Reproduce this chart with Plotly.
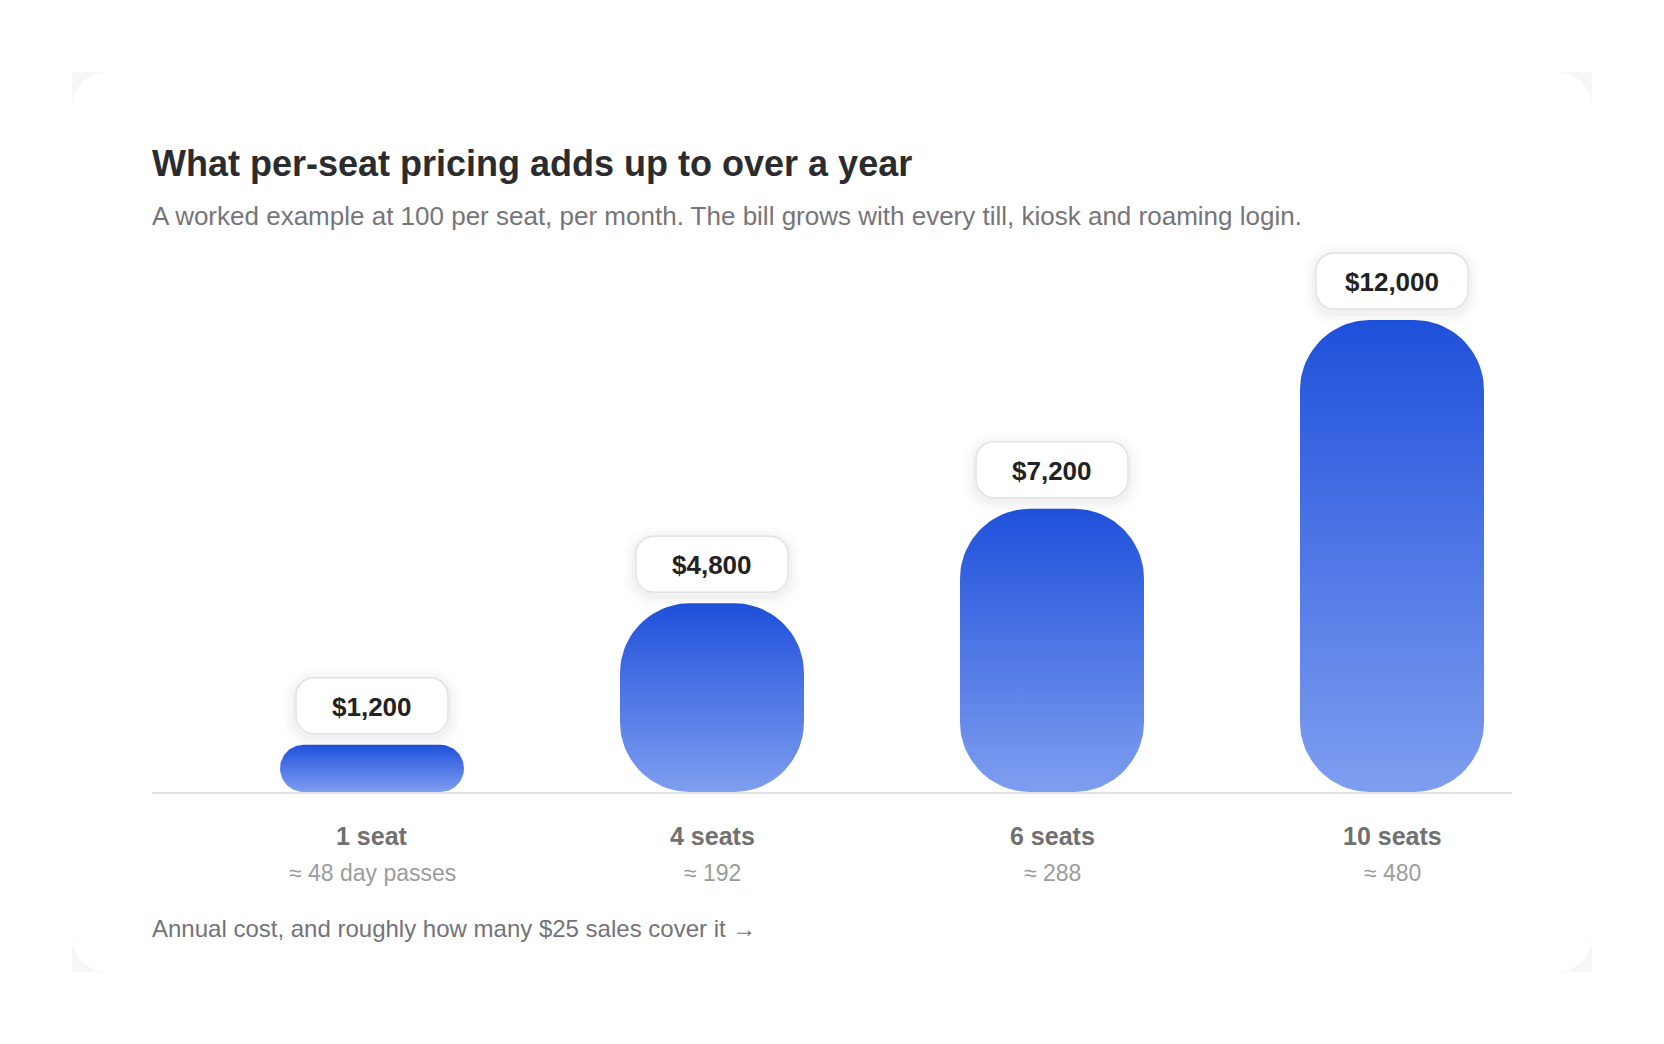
import numpy as np
import plotly.graph_objects as go

# Datos: coste anual por número de puestos
seats = ["1 seat", "4 seats", "6 seats", "10 seats"]
annual_cost = [1200, 4800, 7200, 12000]
cost_labels = ["$1,200", "$4,800", "$7,200", "$12,000"]
sales_needed = ["≈ 48 day passes", "≈ 192", "≈ 288", "≈ 480"]

title = "What per-seat pricing adds up to over a year"
subtitle = ("A worked example at 100 per seat, per month. The bill grows with every "
            "till, kiosk and roaming login.")
footer = "Annual cost, and roughly how many $25 sales cover it →"

FONT = "Liberation Sans, Arial, Helvetica, sans-serif"

# Geometría en píxeles (la página añade 8 px de margen al cuerpo)
W, H = 1656, 1036
ML, MR, MT, MB = 144, 152, 232, 252
plot_w = W - ML - MR
plot_h = H - MT - MB
slot = 340            # px por categoría
x_lo = -220 / slot
x_hi = x_lo + plot_w / slot
tallest_px = 472      # altura de la barra más alta
y_hi = max(annual_cost) * plot_h / tallest_px
px_per_y = plot_h / y_hi

bar_w_px = 184
bar_radius = 70
top_color = "#1f50db"
bottom_color = "#7f9ef0"


def rounded_bar(xc, v):
    h = v * px_per_y
    r = min(bar_radius, h / 2, bar_w_px / 2)
    rx, ry = r / slot, r / px_per_y
    hw = bar_w_px / 2 / slot
    corners = [(xc + hw - rx, v - ry, 0), (xc - hw + rx, v - ry, 90),
               (xc - hw + rx, ry, 180), (xc + hw - rx, ry, 270)]
    xs, ys = [], []
    for cx, cy, a0 in corners:
        t = np.radians(np.linspace(a0, a0 + 90, 24))
        xs += list(cx + rx * np.cos(t))
        ys += list(cy + ry * np.sin(t))
    return xs + [xs[0]], ys + [ys[0]]


def rounded_path(x0, y0, x1, y1, r):
    k = 0.5523 * r
    return (f"M {x0 + r},{y0} L {x1 - r},{y0} C {x1 - r + k},{y0} {x1},{y0 + r - k} {x1},{y0 + r} "
            f"L {x1},{y1 - r} C {x1},{y1 - r + k} {x1 - r + k},{y1} {x1 - r},{y1} "
            f"L {x0 + r},{y1} C {x0 + r - k},{y1} {x0},{y1 - r + k} {x0},{y1 - r} "
            f"L {x0},{y0 + r} C {x0},{y0 + r - k} {x0 + r - k},{y0} {x0 + r},{y0} Z")


fig = go.Figure()

# Barras redondeadas con degradado vertical
for i, v in enumerate(annual_cost):
    xs, ys = rounded_bar(i, v)
    fig.add_trace(go.Scatter(
        x=xs, y=ys, mode="lines", fill="toself",
        line=dict(width=0, color="rgba(0,0,0,0)"),
        fillgradient=dict(type="vertical",
                          colorscale=[[0, bottom_color], [1, top_color]]),
        hoverinfo="skip", showlegend=False,
    ))

shapes = []

# Tarjeta de fondo
card = dict(xref="paper", yref="paper", xsizemode="pixel", ysizemode="pixel",
            xanchor=0, yanchor=0, layer="below", line=dict(width=0))
shapes.append(dict(card, type="rect", x0=-80, x1=1440, y0=-180, y1=720,
                   fillcolor="#f7f7f8"))
shapes.append(dict(card, type="path", path=rounded_path(-80, -180, 1440, 720, 35),
                   fillcolor="white"))

# Etiquetas de valor en cajas redondeadas con sombra suave
box_w, box_h, gap = 152, 56, 11
for i, v in enumerate(annual_cost):
    base = dict(xref="x", yref="y", xsizemode="pixel", ysizemode="pixel",
                xanchor=i, yanchor=v, type="path")
    for s, a in [(12, 0.012), (8, 0.016), (4, 0.022)]:
        shapes.append(dict(base, path=rounded_path(-box_w / 2 - s, gap - s - 3,
                                                   box_w / 2 + s, gap + box_h + s - 3, 18 + s),
                           fillcolor=f"rgba(0,0,0,{a})", line=dict(width=0)))
    shapes.append(dict(base, path=rounded_path(-box_w / 2, gap, box_w / 2, gap + box_h, 18),
                       fillcolor="white", line=dict(color="#e2e2e2", width=1.5)))

annotations = []
for i, (v, lab) in enumerate(zip(annual_cost, cost_labels)):
    annotations.append(dict(x=i, y=v, xref="x", yref="y", text=f"<b>{lab}</b>",
                            showarrow=False, yanchor="middle", yshift=gap + box_h / 2 - 1,
                            font=dict(family=FONT, size=26, color="#222222")))

for i, (s, n) in enumerate(zip(seats, sales_needed)):
    annotations.append(dict(x=i, y=0, xref="x", yref="y", text=f"<b>{s}</b>",
                            showarrow=False, yanchor="middle", yshift=-44,
                            font=dict(family=FONT, size=25, color="#707070")))
    annotations.append(dict(x=i, y=0, xref="x", yref="y", text=n,
                            showarrow=False, yanchor="middle", yshift=-81,
                            font=dict(family=FONT, size=23, color="#9c9c9c")))

annotations.append(dict(x=0, y=1, xref="paper", yref="paper", text=f"<b>{title}</b>",
                        showarrow=False, xanchor="left", yanchor="middle", yshift=77, xshift=-2,
                        font=dict(family=FONT, size=36, color="#2b2c30")))
annotations.append(dict(x=0, y=1, xref="paper", yref="paper", text=subtitle,
                        showarrow=False, xanchor="left", yanchor="middle", yshift=24, xshift=-2,
                        font=dict(family=FONT, size=26, color="#75757a")))
annotations.append(dict(x=0, y=0, xref="paper", yref="paper", text=footer,
                        showarrow=False, xanchor="left", yanchor="middle", yshift=-136, xshift=-2,
                        font=dict(family=FONT, size=24, color="#737378")))

fig.update_layout(
    width=W, height=H,
    margin=dict(l=ML, r=MR, t=MT, b=MB, pad=0),
    paper_bgcolor="white", plot_bgcolor="rgba(0,0,0,0)",
    xaxis=dict(range=[x_lo, x_hi], showgrid=False, zeroline=False, showticklabels=False,
               showline=True, linecolor="#e2e2e2", linewidth=2, fixedrange=True),
    yaxis=dict(range=[0, y_hi], showgrid=False, zeroline=False, showticklabels=False,
               showline=False, fixedrange=True),
    shapes=shapes,
    annotations=annotations,
    font=dict(family=FONT),
    showlegend=False,
)

fig.write_html("out.html", config={"displayModeBar": False})
